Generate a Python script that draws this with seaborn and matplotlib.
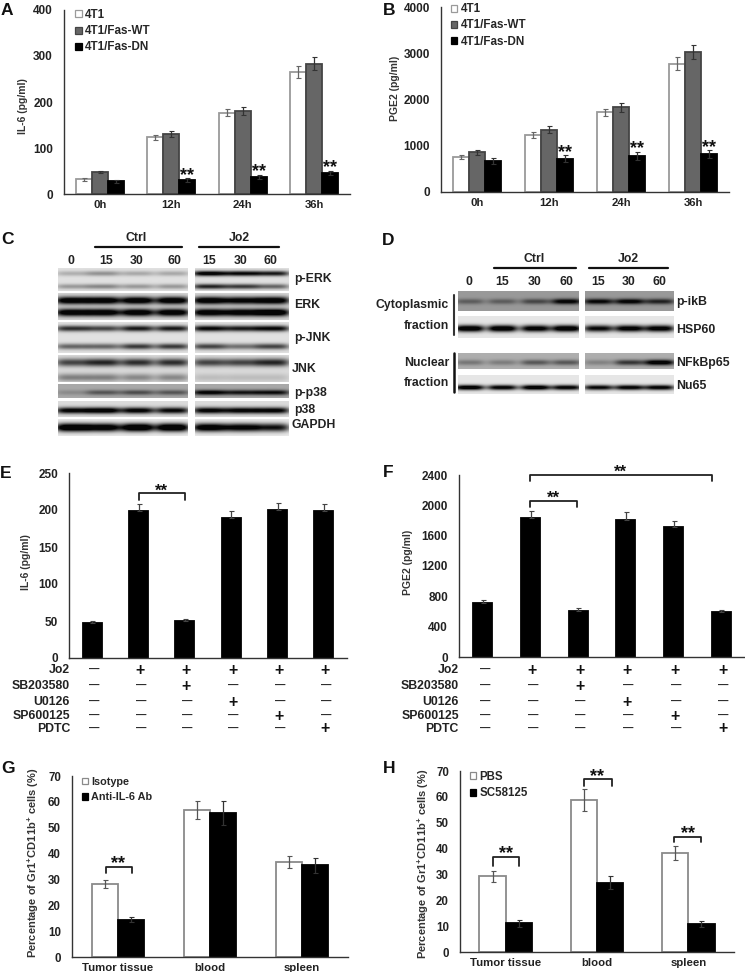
import matplotlib
matplotlib.use('Agg')
import matplotlib.pyplot as plt
import seaborn as sns
import numpy as np
import pandas as pd

W, H = 745, 972

# panels A and B
times = ['0h', '12h', '24h', '36h']
groups_ab = ['4T1', '4T1/Fas-WT', '4T1/Fas-DN']
il6_wt0 = [32, 123, 177, 265]
il6_wt0_err = [3, 6, 8, 13]
il6_fas = [48, 130, 180, 283]
il6_fas_err = [3, 6, 9, 14]
il6_dn = [28, 30, 37, 46]
il6_dn_err = [3, 4, 4, 5]
pge_wt0 = [760, 1240, 1720, 2770]
pge_wt0_err = [50, 65, 85, 140]
pge_fas = [860, 1350, 1830, 3020]
pge_fas_err = [50, 70, 90, 150]
pge_dn = [680, 720, 780, 830]
pge_dn_err = [65, 70, 80, 85]

# panels E and F
conditions = ['c1', 'c2', 'c3', 'c4', 'c5', 'c6']
il6_inhib = [47, 199, 50, 189, 200, 199]
il6_inhib_err = [2.5, 9, 2.5, 10, 10, 9]
pge_inhib = [715, 1835, 610, 1810, 1710, 595]
pge_inhib_err = [40, 95, 35, 100, 90, 30]
sign_names = ['Jo2', 'SB203580', 'U0126', 'SP600125', 'PDTC']
sign_rows = [
    ['-', '+', '+', '+', '+', '+'],
    ['-', '-', '+', '-', '-', '-'],
    ['-', '-', '-', '+', '-', '-'],
    ['-', '-', '-', '-', '+', '-'],
    ['-', '-', '-', '-', '-', '+'],
]

# panels G and H
tissues = ['Tumor tissue', 'blood', 'spleen']
iso = [28.2, 56.8, 36.8]
iso_err = [1.7, 3.4, 2.3]
anti = [14.5, 55.8, 35.4]
anti_err = [1.1, 4.6, 2.9]
pbs = [29.3, 58.7, 38.2]
pbs_err = [2.2, 4.2, 2.7]
sc = [11.1, 26.8, 10.8]
sc_err = [1.3, 2.6, 1.2]

# blot band strengths per lane, one list per band
c_names = ['p-ERK', 'ERK', 'p-JNK', 'JNK', 'p-p38', 'p38', 'GAPDH']
c_perk = [[.22, .35, .25, .25, 1.1, 1.0, .9], [.32, .4, .32, .32, .85, .75, .55]]
c_erk = [[1.2, 1.2, 1.2, 1.2, 1.2, 1.1, 1.2], [1.2, 1.2, 1.2, 1.2, 1.2, 1.2, 1.3]]
c_pjnk = [[.8, .7, .9, .9, 1.0, .9, 1.0], [.55, .55, .75, .75, .7, .5, .7]]
c_jnk = [[.7, .85, .8, .8, .7, .7, .85], [.42, .42, .38, .38, .14, .14, .14]]
c_pp38 = [[.18, .5, .55, .5, 1.05, .9, .95]]
c_p38 = [[1.05, 1.15, 1.05, 1.0, 1.05, 1.05, 1.05]]
c_gapdh = [[1.3, 1.2, 1.3, 1.3, 1.2, 1.1, .95]]
d_names = ['p-ikB', 'HSP60', 'NFkBp65', 'Nu65']
d_pikb = [[.4, .4, .55, 1.05, 1.0, 1.05, .8]]
d_hsp = [[1.2, 1.2, 1.1, 1.2, 1.0, 1.1, 1.1]]
d_nfkb = [[.32, .28, .5, .5, .25, .7, 1.15]]
d_nu = [[1.15, 1.05, 1.15, 1.05, 1.0, 1.05, 1.05]]


def ax_px(left, right, top, bottom):
    return fig.add_axes([left / W, 1 - bottom / H, (right - left) / W, (bottom - top) / H])


def long_table(cats, names, series):
    rows = []
    for name, vals in zip(names, series):
        for cat, v in zip(cats, vals):
            rows.append({'cat': cat, 'group': name, 'value': v})
    return pd.DataFrame(rows)


def bars(ax, cats, names, series, errs, colors, edges, ecolors, width, upper_only=False, ytick_size=8.5):
    df = long_table(cats, names, series)
    sns.barplot(data=df, x='cat', y='value', hue='group', palette=colors, width=width,
                gap=0, errorbar=None, ax=ax, legend=len(names) > 1)
    for cont, edge, ecol, err in zip(ax.containers, edges, ecolors, errs):
        xs = [p.get_x() + p.get_width() / 2 for p in cont]
        ys = [p.get_height() for p in cont]
        for p in cont:
            p.set_edgecolor(edge)
            p.set_linewidth(1.3)
        yerr = [np.zeros(len(err)), err] if upper_only else err
        ax.errorbar(xs, ys, yerr=yerr, fmt='none', ecolor=ecol, elinewidth=0.9, capsize=1.8,
                    capthick=0.8, zorder=5)
    ax.set_xlim(-0.5, len(cats) - 0.5)
    ax.set_xlabel('')
    ax.set_xticks(np.arange(len(cats) + 1) - 0.5, minor=True)
    ax.tick_params(axis='x', which='major', length=0, pad=4.5, labelsize=8.2, colors='#222222')
    ax.tick_params(axis='x', which='minor', length=2.5, width=0.9, color='#333333')
    ax.tick_params(axis='y', length=2.5, width=0.9, color='#333333', labelsize=ytick_size, pad=5.5,
                   labelcolor='#222222')
    sns.despine(ax=ax)
    for s in ['left', 'bottom']:
        ax.spines[s].set_color('#333333')
        ax.spines[s].set_linewidth(1.0)


def fix_legend(ax, x, y, edges, size=8.4, spacing=0.36):
    sns.move_legend(ax, 'upper left', bbox_to_anchor=(x, y), frameon=False, title=None,
                    fontsize=size, borderpad=0, borderaxespad=0, labelspacing=spacing,
                    handlelength=0.55, handleheight=0.55, handletextpad=0.3)
    for h, edge in zip(ax.get_legend().legend_handles, edges):
        h.set_edgecolor(edge)
        h.set_linewidth(0.9)


def stars(ax, x, y, size=13):
    ax.annotate('**', (x, y), xytext=(0, -0.39 * size), textcoords='offset points', ha='center',
                va='baseline', fontsize=size, fontweight='bold', color='#111111',
                annotation_clip=False)


def bracket(ax, x0, x1, y_top, y_end):
    ax.plot([x0, x0, x1, x1], [y_end, y_top, y_top, y_end], color='#222222', lw=1.3,
            clip_on=False, zorder=6)


def sign_table(ax, label_x, rows_y, top, bottom, left, right):
    for name, row, y_px in zip(sign_names, sign_rows, rows_y):
        yf = (bottom - y_px) / (bottom - top)
        xf = (label_x - left) / (right - left)
        ax.text(xf, yf, name, transform=ax.transAxes, ha='right', va='center', fontsize=8.8,
                fontweight='bold', color='#222222', clip_on=False)
        tr = ax.get_xaxis_transform()
        for i, s in enumerate(row):
            if s == '+':
                ax.text(i + 0.03, yf, '+', transform=tr, ha='center', va='center', fontsize=11.5,
                        fontweight='bold', color='#111111', clip_on=False)
            else:
                ax.text(i + 0.05, yf, '\u2014', transform=tr, ha='center', va='center', fontsize=7.5,
                        fontweight='bold', color='#222222', clip_on=False)


def blot(x0, x1, y0, y1, blocks, strips, lanes, half_width):
    # paints the strips into one grey image, drawn with heatmap pixel by pixel
    canvas = np.ones((y1 - y0, x1 - x0))
    yy, xx = np.mgrid[y0:y1, x0:x1]
    for top, bottom, bg, centers, thick, bands in strips:
        for (bx0, bx1), lane_idx in blocks:
            mask = (yy >= top) & (yy < bottom) & (xx >= bx0) & (xx < bx1)
            img = np.full(canvas.shape, float(bg))
            for cy, band in zip(centers, bands):
                for idx in lane_idx:
                    img -= band[idx] * bg * np.exp(-((xx - lanes[idx]) / half_width) ** 4) \
                        * np.exp(-((yy - cy) / thick) ** 2)
            canvas[mask] = np.clip(img[mask], 0.02, 1)
    ax = ax_px(x0, x1, y0, y1)
    sns.heatmap(canvas, cmap='gray', vmin=0, vmax=1, cbar=False, xticklabels=False,
                yticklabels=False, ax=ax)
    return ax


sns.set_theme(style='white')
plt.rcParams['font.family'] = ['Liberation Sans', 'DejaVu Sans']
plt.rcParams['font.weight'] = 'bold'
plt.rcParams['axes.labelweight'] = 'bold'
plt.rcParams['mathtext.fontset'] = 'custom'
plt.rcParams['mathtext.rm'] = 'Liberation Sans:bold'
plt.rcParams['mathtext.default'] = 'rm'

fig = plt.figure(figsize=(W / 100, H / 100), dpi=100, facecolor='white')

white, grey, black = 'white', '#666666', 'black'
edges3 = ['#9a9a9a', '#444444', 'black']
ecol3 = ['#666666', '#333333', '#333333']

# A
axA = ax_px(64, 350, 10, 194)
bars(axA, times, groups_ab, [il6_wt0, il6_fas, il6_dn], [il6_wt0_err, il6_fas_err, il6_dn_err],
     [white, grey, black], edges3, ecol3, 0.67)
axA.set_ylim(0, 400)
axA.set_yticks([0, 100, 200, 300, 400])
axA.set_ylabel('IL-6 (pg/ml)', fontsize=7.5, color='#333333')
axA.yaxis.set_label_coords((28 - 64) / 286, 0.48)
fix_legend(axA, 0.04, 1.005, edges3)
for x, y in zip([1.223, 2.223, 3.223], [46, 55, 62]):
    stars(axA, x, y)

# B
axB = ax_px(441, 729, 7, 192)
bars(axB, times, groups_ab, [pge_wt0, pge_fas, pge_dn], [pge_wt0_err, pge_fas_err, pge_dn_err],
     [white, grey, black], edges3, ecol3, 0.67)
axB.set_ylim(0, 4000)
axB.set_yticks([0, 1000, 2000, 3000, 4000])
axB.set_ylabel('PGE2 (pg/ml)', fontsize=7.5, color='#333333')
axB.yaxis.set_label_coords((400 - 441) / 288, 0.56)
fix_legend(axB, 0.035, 1.02, edges3)
for x, y in zip([1.223, 2.223, 3.223], [900, 987, 1010]):
    stars(axB, x, y)

# C blot
c_left = [0, 1, 2, 3]
c_right = [4, 5, 6]
c_lanes = [72, 103, 137, 172, 209, 241, 272]
blocks_c = [((58, 188), c_left), ((195, 289), c_right)]
strips_c = [
    (268, 291, .88, [273, 286], 2.6, c_perk),
    (293, 320, .84, [300, 312], 3.8, c_erk),
    (322, 353, .88, [328, 346], 3.0, c_pjnk),
    (355, 382, .86, [362, 377], 4.0, c_jnk),
    (384, 398, .66, [392], 2.6, c_pp38),
    (401, 417, .86, [410], 3.2, c_p38),
    (419, 436, .92, [427], 4.2, c_gapdh),
]
blot(58, 289, 268, 436, blocks_c, strips_c, c_lanes, 17)

# D blot
d_left = [0, 1, 2, 3]
d_right = [4, 5, 6]
d_lanes = [469, 502, 535, 566, 598, 629, 659]
blocks_d = [((458, 579), d_left), ((585, 674), d_right)]
strips_d = [
    (291, 311, .6, [301], 2.8, d_pikb),
    (316, 338, .9, [328], 3.4, d_hsp),
    (353, 369, .68, [362], 2.8, d_nfkb),
    (375, 394, .9, [387], 2.6, d_nu),
]
blot(458, 674, 291, 394, blocks_d, strips_d, d_lanes, 15)

# E
axE = ax_px(69, 347, 473, 658)
bars(axE, conditions, ['IL-6'], [il6_inhib], [il6_inhib_err], ['black'], ['black'], ['#444444'],
     0.41, upper_only=True)
axE.set_ylim(0, 250)
axE.set_yticks([0, 50, 100, 150, 200, 250])
axE.tick_params(axis='x', labelbottom=False)
axE.set_ylabel('IL-6 (pg/ml)', fontsize=7.5, color='#333333')
axE.yaxis.set_label_coords((31 - 69) / 278, 0.52)
bracket(axE, 1.0, 2.0, 223, 213)
stars(axE, 1.5, 228, 12)
sign_table(axE, 70, [670, 686, 702, 716, 729], 473, 658, 69, 347)

# F
axF = ax_px(459, 745, 475, 657)
bars(axF, conditions, ['PGE2'], [pge_inhib], [pge_inhib_err], ['black'], ['black'], ['#444444'],
     0.4, upper_only=True)
axF.set_ylim(0, 2400)
axF.set_yticks([0, 400, 800, 1200, 1600, 2000, 2400])
axF.tick_params(axis='x', labelbottom=False)
axF.set_ylabel('PGE2 (pg/ml)', fontsize=7.5, color='#333333')
axF.yaxis.set_label_coords((413 - 459) / 286, 0.52)
bracket(axF, 0.98, 4.81, 2400, 2320)
bracket(axF, 0.98, 1.98, 2052, 1980)
stars(axF, 2.89, 2466, 12)
stars(axF, 1.49, 2122, 12)
sign_table(axF, 459, [670, 686, 702, 716, 729], 475, 657, 459, 745)

pct_label = r'Percentage of Gr1$^{+}$CD11b$^{+}$ cells (%)'

# G
edges2 = ['#8a8a8a', 'black']
ecol2 = ['#555555', '#333333']
axG = ax_px(72, 348, 776, 957)
bars(axG, tissues, ['Isotype', 'Anti-IL-6 Ab'], [iso, anti], [iso_err, anti_err], [white, black],
     edges2, ecol2, 0.57, ytick_size=8.3)
axG.set_ylim(0, 70)
axG.set_yticks(range(0, 71, 10))
axG.set_ylabel(pct_label, fontsize=8.0, color='#333333')
axG.yaxis.set_label_coords((41 - 72) / 276, 0.52)
fix_legend(axG, 0.035, 0.995, edges2, size=7.8, spacing=0.5)
bracket(axG, -0.135, 0.154, 34.8, 32.6)
stars(axG, 0.0, 37)

# H
axH = ax_px(460, 734, 771, 952)
bars(axH, tissues, ['PBS', 'SC58125'], [pbs, sc], [pbs_err, sc_err], [white, black], edges2, ecol2, 0.575,
     ytick_size=8.3)
axH.set_ylim(0, 70)
axH.set_yticks(range(0, 71, 10))
axH.set_ylabel(pct_label, fontsize=8.0, color='#333333')
axH.yaxis.set_label_coords((431 - 460) / 274, 0.49)
fix_legend(axH, 0.035, 1.0, edges2, size=8.3)
bracket(axH, -0.14, 0.141, 36.9, 33.3)
bracket(axH, 0.859, 1.159, 66.9, 64.2)
bracket(axH, 1.844, 2.144, 44.6, 42.7)
for x, y in zip([0.0, 1.0, 2.0], [39.1, 68.8, 46.9]):
    stars(axH, x, y)

# overlay in pixels for panel letters and blot labels
over = fig.add_axes([0, 0, 1, 1], zorder=10)
over.set_xlim(0, W)
over.set_ylim(H, 0)
over.axis('off')

letters = ['A', 'B', 'C', 'D', 'E', 'F', 'G', 'H']
letter_x = [1, 383, 1, 382, 0, 383, 1, 383]
letter_y = [15, 15, 244, 245, 478, 477, 773, 773]
for s, x, y in zip(letters, letter_x, letter_y):
    over.text(x, y, s, fontsize=12.5, fontweight='bold', color='#111111', va='baseline', ha='left')


def lab(x, y, s, ha='center'):
    over.text(x, y, s, fontsize=8.8, fontweight='bold', color='#222222', ha=ha, va='center_baseline')


lane_labels = ['0', '15', '30', '60', '15', '30', '60']
for x, s in zip([71, 106, 137, 174, 209, 241, 270], lane_labels):
    lab(x, 259, s)
lab(136, 236, 'Ctrl')
lab(239, 236, 'Jo2')
over.plot([95, 182], [247, 247], color='#111111', lw=1.6)
over.plot([199, 279], [247, 247], color='#111111', lw=1.6)
c_label_x = [294, 294, 294, 292, 294, 294, 292]
c_label_y = [277, 303, 336, 367, 391, 408, 423]
for x, y, s in zip(c_label_x, c_label_y, c_names):
    lab(x, y, s, ha='left')

for x, s in zip(d_lanes, lane_labels):
    lab(x, 280, s)
lab(534, 257, 'Ctrl')
lab(628, 257, 'Jo2')
over.plot([494, 576], [268, 268], color='#111111', lw=1.6)
over.plot([589, 668], [268, 268], color='#111111', lw=1.6)
for y, s in zip([300, 328, 361, 384], d_names):
    lab(676, y, s, ha='left')
for y, s in zip([303, 324, 361, 381], ['Cytoplasmic', 'fraction', 'Nuclear', 'fraction']):
    lab(449, y, s, ha='right')
over.plot([454, 454], [295, 335], color='#333333', lw=1.5)
over.plot([454, 454], [353, 392], color='#111111', lw=1.8)

fig.savefig('out.png', dpi=100)
